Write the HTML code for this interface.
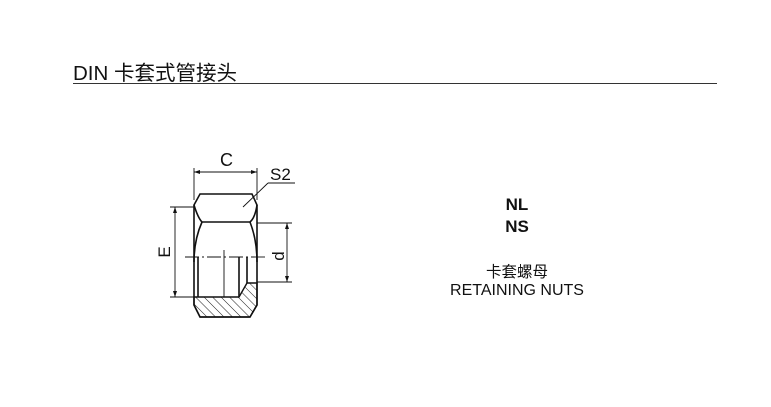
<!DOCTYPE html>
<html><head><meta charset="utf-8"><style>
body{margin:0;width:771px;height:407px;background:#fff;overflow:hidden;position:relative;font-family:"Liberation Sans","Noto Sans CJK SC",sans-serif;color:#111}
.t{position:absolute;white-space:nowrap}
</style></head><body>
<div class="t" style="left:73px;top:56px;font-size:20.5px">DIN 卡套式管接头</div>
<div style="position:absolute;left:73px;top:83px;width:644px;height:1px;background:#333"></div>
<div class="t" style="left:467px;width:100px;text-align:center;top:194px;font-size:17px;font-weight:bold;line-height:22px">NL<br>NS</div>
<div class="t" style="left:442px;width:150px;text-align:center;top:260px;font-size:15.5px">卡套螺母</div>
<div class="t" style="left:417px;width:200px;text-align:center;top:282px;font-size:16px">RETAINING NUTS</div>
<svg width="771" height="407" style="position:absolute;left:0;top:0" font-family="Liberation Sans, sans-serif">
<defs><pattern id="h" width="6" height="6" patternUnits="userSpaceOnUse" patternTransform="rotate(-45)"><line x1="0" y1="0" x2="0" y2="6" stroke="#222" stroke-width="1"/></pattern></defs>
<g stroke="#111" fill="none" stroke-width="1.6">
<path d="M194,205 L200,194 L252,194 L257,205 L257,305 L250,317 L200,317 L194,305 Z"/>
<path d="M194,205 Q198,218 202,222 L250,222 Q255,218 257,205"/>
<path d="M202,222 Q194,240 194,262 M250,222 Q257,240 257,262"/>
<line x1="198" y1="257" x2="198" y2="297"/>
<line x1="239" y1="257" x2="239" y2="297"/>
<line x1="247" y1="257" x2="247" y2="283"/>
</g>
<path d="M194,297 L239,297 L247,283 L257,283 L257,305 L250,317 L200,317 L194,305 Z" fill="url(#h)" stroke="#111" stroke-width="1.4"/>
<g stroke="#111" stroke-width="0.9" fill="none">
<line x1="185" y1="257" x2="266" y2="257" stroke-dasharray="14,3,2,3"/>
<line x1="224" y1="250" x2="224" y2="297"/>
<line x1="194" y1="168" x2="194" y2="200"/><line x1="257" y1="168" x2="257" y2="200"/>
<line x1="194" y1="172" x2="257" y2="172"/>
<line x1="170" y1="207" x2="194" y2="207"/><line x1="170" y1="297" x2="194" y2="297"/>
<line x1="175" y1="207" x2="175" y2="297"/>
<line x1="257" y1="223" x2="292" y2="223"/><line x1="257" y1="282" x2="292" y2="282"/>
<line x1="287" y1="223" x2="287" y2="282"/>
<line x1="268" y1="183" x2="295" y2="183"/><line x1="268" y1="183" x2="243" y2="207"/>
</g>
<g fill="#111">
<path d="M194,172 l6,-2 v4z M257,172 l-6,-2 v4z"/>
<path d="M175,207 l-2,6 h4z M175,297 l-2,-6 h4z"/>
<path d="M287,223 l-2,6 h4z M287,282 l-2,-6 h4z"/>
</g>
<text x="220" y="166" font-size="18" fill="#111">C</text>
<text x="270" y="180" font-size="17" fill="#111">S2</text>
<text transform="translate(170,252) rotate(-90)" font-size="17" fill="#111" text-anchor="middle">E</text>
<text transform="translate(284,256) rotate(-90)" font-size="17" fill="#111" text-anchor="middle">d</text>
</svg>
</body></html>
